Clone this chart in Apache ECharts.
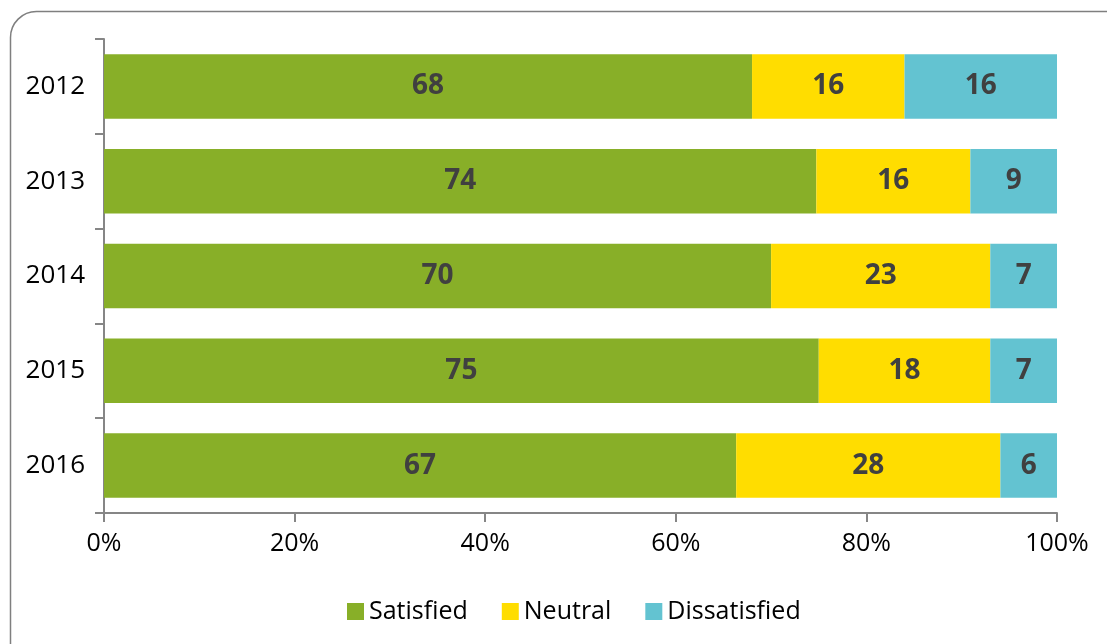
<!DOCTYPE html>
<html>
<head>
<meta charset="utf-8">
<script src="https://cdn.jsdelivr.net/npm/echarts@6/dist/echarts.min.js"></script>
<style>
html,body{margin:0;padding:0;background:#fff;}
#chart{width:1107px;height:644px;}
</style>
</head>
<body>
<div id="chart"></div>
<script>
var years = ['2012', '2013', '2014', '2015', '2016'];
var satisfied = [68, 74, 70, 75, 67];
var neutral = [16, 16, 23, 18, 28];
var dissatisfied = [16, 9, 7, 7, 6];
var xTicks = [0, 20, 40, 60, 80, 100];

var totals = years.map(function (y, i) { return satisfied[i] + neutral[i] + dissatisfied[i]; });
function shares(arr) { return arr.map(function (v, i) { return v / totals[i] * 100; }); }

var font = '"Open Sans", "Liberation Sans", sans-serif';
function mkSeries(name, arr, color) {
  return {
    name: name,
    type: 'bar',
    stack: 'all',
    barCategoryGap: '32%',
    data: shares(arr),
    itemStyle: { color: color },
    label: {
      show: true,
      position: 'inside',
      color: '#404040',
      fontFamily: font,
      fontWeight: 'bold',
      fontSize: 28,
      formatter: function (p) { return arr[p.dataIndex]; }
    }
  };
}

var chart = echarts.init(document.getElementById('chart'), null, { renderer: 'canvas' });
chart.setOption({
  animation: false,
  backgroundColor: '#fff',
  graphic: [{
    type: 'rect',
    left: 8, top: 9,
    shape: { width: 1130, height: 660, r: 26 },
    style: { fill: 'none', stroke: '#7f7f7f', lineWidth: 1.5 },
    z: -1
  }],
  grid: { left: 104, right: 50, top: 39, bottom: 131, containLabel: false },
  legend: {
    bottom: 15,
    left: 342,
    itemWidth: 17,
    itemHeight: 17,
    itemGap: 34,
    icon: 'rect',
    textStyle: { fontFamily: font, fontSize: 25, color: '#000' },
    data: ['Satisfied', 'Neutral', 'Dissatisfied']
  },
  xAxis: {
    type: 'value',
    min: 0, max: 100, interval: 20,
    axisLine: { show: true, lineStyle: { color: '#868686', width: 2 } },
    axisTick: { show: true, length: 9, lineStyle: { color: '#868686', width: 2 } },
    splitLine: { show: false },
    axisLabel: {
      margin: 18,
      fontFamily: font, fontSize: 25, color: '#000',
      formatter: function (v) { return xTicks.indexOf(v) >= 0 ? v + '%' : ''; }
    }
  },
  yAxis: {
    type: 'category',
    inverse: true,
    data: years,
    axisLine: { show: true, lineStyle: { color: '#868686', width: 2 } },
    axisTick: { show: true, length: 9, lineStyle: { color: '#868686', width: 2 } },
    axisLabel: { margin: 19, fontFamily: font, fontSize: 26, color: '#000' }
  },
  series: [
    mkSeries('Satisfied', satisfied, '#88af28'),
    mkSeries('Neutral', neutral, '#ffdd00'),
    mkSeries('Dissatisfied', dissatisfied, '#63c3d1')
  ]
});
</script>
</body>
</html>
